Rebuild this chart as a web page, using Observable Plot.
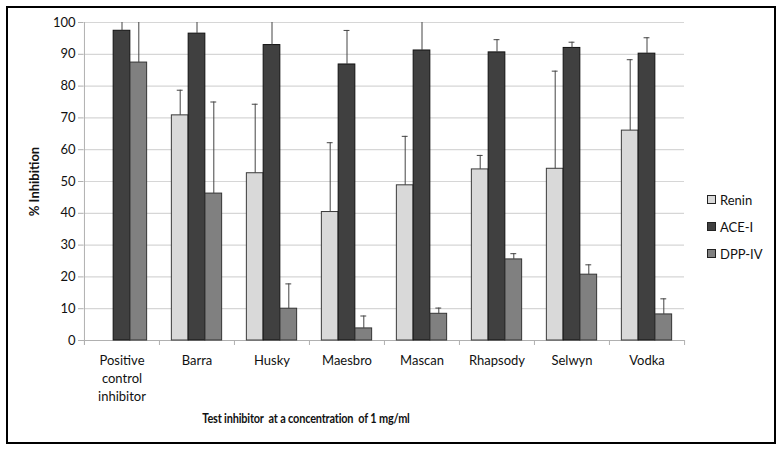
<!DOCTYPE html>
<html>
<head>
<meta charset="utf-8">
<script src="https://cdn.jsdelivr.net/npm/d3@7"></script>
<script src="https://cdn.jsdelivr.net/npm/@observablehq/plot@0.6"></script>
<style>
  html, body { margin: 0; padding: 0; background: #fff; }
  #wrap { position: relative; width: 781px; height: 450px; font-family: Lato, "Open Sans", sans-serif; }
  #border { position: absolute; left: 6px; top: 6px; width: 766px; height: 434px; border: 2px solid #000; pointer-events: none; }
  #xlabel { position: absolute; left: 0; width: 612px; top: 410px; text-align: center; font-weight: bold; font-size: 13px; letter-spacing: -0.2px; color: #111; white-space: pre; transform: scaleX(0.84); transform-origin: 306px 0; }
  #legend { position: absolute; left: 707px; top: 186px; font-size: 13px; color: #111; }
  .li { display: flex; align-items: center; height: 27px; }
  .sw { width: 7px; height: 7px; border: 1px solid #222; margin-right: 4px; }
  svg g[aria-label="y-axis label"] text { font-weight: bold; }
</style>
</head>
<body>
<div id="wrap">
  <div id="chart"></div>
  <div id="xlabel">Test inhibitor  at a concentration  of 1 mg/ml</div>
  <div id="legend"></div>
  <div id="border"></div>
</div>
<script>
const categories = ["Positive control inhibitor", "Barra", "Husky", "Maesbro", "Mascan", "Rhapsody", "Selwyn", "Vodka"];
const categoryLabels = ["Positive\ncontrol\ninhibitor", "Barra", "Husky", "Maesbro", "Mascan", "Rhapsody", "Selwyn", "Vodka"];
const seriesNames = ["Renin", "ACE-I", "DPP-IV"];
const renin    = [null, 70.8, 52.6, 40.4, 48.8, 53.8, 54.0, 66.0];
const reninErr = [null, 78.7, 74.3, 62.2, 64.2, 58.2, 84.7, 88.3];
const ace      = [97.4, 96.5, 92.9, 86.8, 91.2, 90.6, 92.0, 90.2];
const aceErr   = [104, 104, 105, 97.5, 104, 94.6, 93.8, 95.2];
const dpp      = [87.4, 46.2, 10.0, 3.8, 8.4, 25.5, 20.7, 8.2];
const dppErr   = [103, 75.0, 17.8, 7.7, 10.2, 27.3, 23.8, 13.1];
const yTicks = [0, 10, 20, 30, 40, 50, 60, 70, 80, 90, 100];

const fills = ["#d9d9d9", "#404040", "#808080"];
const strokes = ["#3a3a3a", "#111111", "#333333"];

const W = 781, H = 450, mL = 83, mR = 97, mT = 22, mB = 110;
const bw = (W - mL - mR) / categories.length;
const barW = 16.8;
const pad = (bw - 3 * barW) / 2;
const capW = 6;

const values = [renin, ace, dpp];
const errs = [reninErr, aceErr, dppErr];
const seriesRows = seriesNames.map((s, i) =>
  categories.map((c, j) => ({cat: c, series: s, value: values[i][j], err: errs[i][j]})).filter(d => d.value != null)
);

const marks = [
  Plot.ruleY(yTicks.filter(d => d > 0), {stroke: "#d6d6d6", strokeWidth: 1.2}),
  Plot.ruleX([categories[0]], {dx: -bw / 2, stroke: "#b0b0b0", insetBottom: -5}),
  Plot.ruleY([0], {stroke: "#b0b0b0"}),
  Plot.axisY({ticks: yTicks, tickSize: 5, tickPadding: 3, stroke: "#b0b0b0", fontSize: 13, fill: "#111",
    label: "% Inhibition", labelAnchor: "center", labelOffset: 54, labelArrow: "none"}),
  Plot.axisX({tickSize: 0, tickPadding: 12, fontSize: 13, fill: "#111", lineHeight: 1.38,
    tickFormat: d => categoryLabels[categories.indexOf(d)], label: null}),
  Plot.axisX({tickSize: 5, stroke: "#b0b0b0", fill: "none", dx: -bw / 2, label: null}),
  Plot.axisX({ticks: [categories[categories.length - 1]], tickSize: 5, stroke: "#b0b0b0", fill: "none", dx: bw / 2, label: null})
];

seriesRows.forEach((rows, i) => {
  marks.push(
    Plot.barY(rows, {x: "cat", y: "value", fill: fills[i], stroke: strokes[i], strokeWidth: 1,
      insetLeft: pad + i * barW, insetRight: bw - pad - (i + 1) * barW})
  );
});
seriesRows.forEach((rows, i) => {
  const off = (i - 1) * barW;
  marks.push(
    Plot.ruleX(rows, {x: "cat", y1: "value", y2: "err", dx: off, stroke: "#444", strokeWidth: 1, clip: true}),
    Plot.tickY(rows, {x: "cat", y: "err", dx: off, insetLeft: (bw - capW) / 2, insetRight: (bw - capW) / 2,
      stroke: "#444", strokeWidth: 1, clip: true})
  );
});

const chart = Plot.plot({
  width: W, height: H,
  marginLeft: mL, marginRight: mR, marginTop: mT, marginBottom: mB,
  style: {fontFamily: "Lato, 'Open Sans', sans-serif", background: "#fff"},
  x: {type: "band", domain: categories, padding: 0},
  y: {domain: [0, 100]},
  marks
});
document.getElementById("chart").appendChild(chart);

const legend = document.getElementById("legend");
seriesNames.forEach((s, i) => {
  const row = document.createElement("div");
  row.className = "li";
  const sw = document.createElement("div");
  sw.className = "sw";
  sw.style.background = fills[i];
  const t = document.createElement("span");
  t.textContent = s;
  row.appendChild(sw); row.appendChild(t);
  legend.appendChild(row);
});
</script>
</body>
</html>
